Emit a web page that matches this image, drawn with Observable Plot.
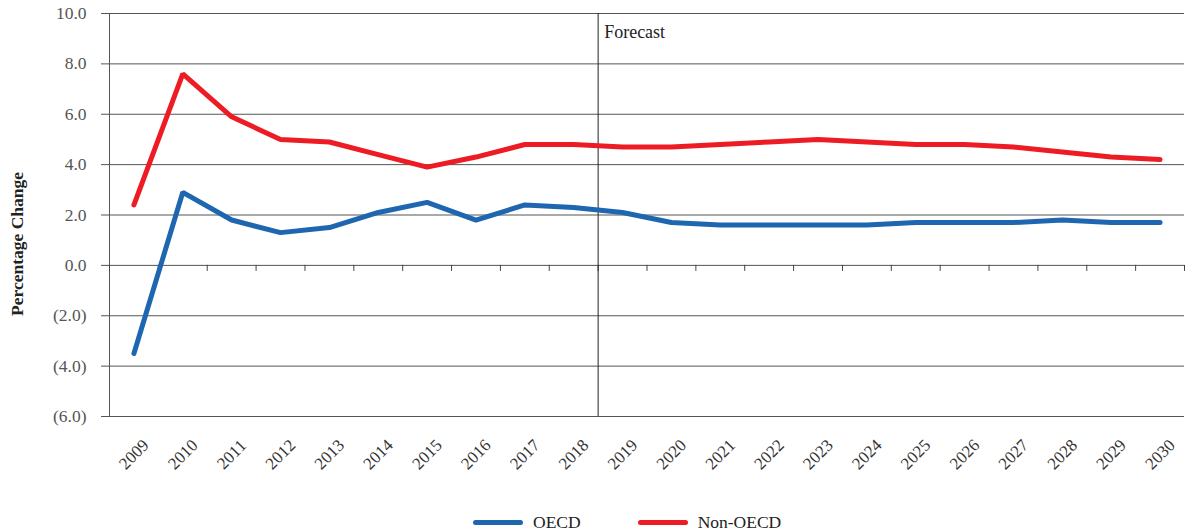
<!DOCTYPE html>
<html><head><meta charset="utf-8">
<script src="https://cdn.jsdelivr.net/npm/d3@7"></script>
<script src="https://cdn.jsdelivr.net/npm/@observablehq/plot@0.6"></script>
<style>
body{margin:0;background:#fff;font-family:"Liberation Serif","Times New Roman",serif;}
#legend{display:flex;align-items:center;height:32px;margin-top:6px;padding-left:473px;font-size:17.5px;color:#222}
.sw{width:50px;height:5px;border-radius:3px;display:inline-block;margin-right:10px}
.item{display:flex;align-items:center;margin-right:57px}
</style></head><body>
<div id="chart"></div>
<div id="legend"></div>
<script>
const years = [2009,2010,2011,2012,2013,2014,2015,2016,2017,2018,2019,2020,2021,2022,2023,2024,2025,2026,2027,2028,2029,2030];
const oecd =    [-3.5,2.9,1.8,1.3,1.5,2.1,2.5,1.8,2.4,2.3,2.1,1.7,1.6,1.6,1.6,1.6,1.7,1.7,1.7,1.8,1.7,1.7];
const nonOecd = [2.4,7.6,5.9,5.0,4.9,4.4,3.9,4.3,4.8,4.8,4.7,4.7,4.8,4.9,5.0,4.9,4.8,4.8,4.7,4.5,4.3,4.2];
const yTicks = [-6,-4,-2,0,2,4,6,8,10];
const seriesNames = ["OECD","Non-OECD"];
const seriesColors = ["#1f66b1","#ed1c24"];
const forecastStart = 2019;
const yLabel = "Percentage Change";
const forecastLabel = "Forecast";

const rows = [
  ...years.map((year,i)=>({year, value: oecd[i], series: seriesNames[0]})),
  ...years.map((year,i)=>({year, value: nonOecd[i], series: seriesNames[1]}))
];
const xDomain = [years[0]-0.5, years[years.length-1]+0.5];
const boundaries = years.map(y=>y-0.5).concat([years[years.length-1]+0.5]);
const fmt = d => d < 0 ? `(${(-d).toFixed(1)})` : d.toFixed(1);

const chart = Plot.plot({
  width:1192, height:500,
  marginLeft:109, marginRight:8, marginTop:13, marginBottom:84,
  style:{fontFamily:"'Liberation Serif','Times New Roman',serif", background:"#fff"},
  x:{domain:xDomain, axis:null},
  y:{domain:[yTicks[0], yTicks[yTicks.length-1]], axis:null},
  color:{domain:seriesNames, range:seriesColors},
  marks:[
    Plot.ruleY(yTicks,{stroke:"#555", strokeWidth:1}),
    Plot.axisY({ticks:yTicks, tickSize:8, tickPadding:15, tickFormat:fmt, fontSize:17.5, color:"#555", label:null}),
    Plot.ruleX([xDomain[0]],{stroke:"#555"}),
    Plot.ruleX(boundaries,{y1:0, y2:0, insetBottom:-6, stroke:"#444"}),
    Plot.ruleX([forecastStart-0.5],{stroke:"#222"}),
    Plot.text([forecastLabel],{x:()=>forecastStart-0.5, frameAnchor:"top", dx:6, dy:19, textAnchor:"start", lineAnchor:"middle", fontSize:18, fill:"#222"}),
    Plot.line(rows,{x:"year", y:"value", z:"series", stroke:"series", strokeWidth:5, strokeLinecap:"round", strokeLinejoin:"miter"}),
    Plot.axisX({ticks:years, tickSize:0, tickPadding:38, tickRotate:-45, textAnchor:"middle", lineAnchor:"middle", tickFormat:d=>String(d), fontSize:17, color:"#333", label:null}),
    Plot.text([yLabel],{frameAnchor:"left", rotate:-90, dx:-92, dy:29, textAnchor:"middle", lineAnchor:"middle", fontWeight:"bold", fontSize:17.5, fill:"#222"})
  ]
});
document.getElementById("chart").append(chart);

const legend = document.getElementById("legend");
seriesNames.forEach((n,i)=>{
  const it = document.createElement("div"); it.className="item";
  const sw = document.createElement("span"); sw.className="sw"; sw.style.background=seriesColors[i];
  const t = document.createElement("span"); t.textContent=n;
  it.append(sw,t); legend.append(it);
});
</script>
</body></html>
